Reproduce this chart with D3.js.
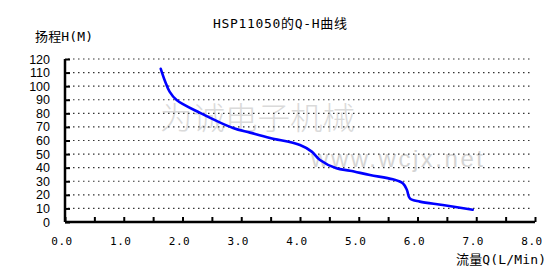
<!DOCTYPE html>
<html>
<head>
<meta charset="utf-8">
<script src="https://cdn.jsdelivr.net/npm/d3@7"></script>
<style>
  body { margin: 0; background: #fff; }
  svg { display: block; }
</style>
</head>
<body>
<svg id="chart"></svg>
<script>
// flow Q (L/Min) and head H (M)
const flowQ = [1.63, 1.70, 1.78, 1.90, 2.30, 2.86, 3.15, 3.49, 4.00, 4.20, 4.34, 4.62, 4.85, 5.19, 5.58, 5.75, 5.82, 5.87, 6.04, 6.43, 6.94];
const headH = [112.8, 104.0, 96.0, 89.8, 80.3, 69.2, 65.8, 61.9, 56.7, 51.8, 45.6, 39.5, 37.8, 34.6, 31.4, 28.5, 23.6, 17.4, 15.0, 12.5, 9.0];

const xTicks = [0, 1, 2, 3, 4, 5, 6, 7, 8];
const xMinorTicks = d3.range(0, 8.01, 0.5);
const yTicks = [0, 10, 20, 30, 40, 50, 60, 70, 80, 90, 100, 110, 120];

const title = "HSP11050的Q-H曲线";
const yTitle = "扬程H(M)";
const xTitle = "流量Q(L/Min)";

const W = 560, H = 279;
const margin = { top: 59, right: 25, bottom: 57, left: 65 };

const svg = d3.select("#chart").attr("width", W).attr("height", H);

const x = d3.scaleLinear().domain([0, 8]).range([margin.left, W - margin.right]);
const y = d3.scaleLinear().domain([0, 120]).range([H - margin.bottom, margin.top]);

const mono = "'DejaVu Sans Mono', 'Noto Sans CJK JP', monospace";

// watermark
svg.append("text")
  .attr("x", 160).attr("y", 129)
  .attr("textLength", 195).attr("lengthAdjust", "spacingAndGlyphs")
  .style("font-family", "'Noto Sans CJK SC'")
  .style("font-weight", 300)
  .style("font-size", "31px")
  .style("fill", "#dadada")
  .text("为诚电子机械");

svg.append("text")
  .attr("x", 311).attr("y", 167)
  .attr("textLength", 172).attr("lengthAdjust", "spacing")
  .style("font-family", "'Liberation Sans', Arial")
  .style("font-size", "24px")
  .style("fill", "#d4d4d4")
  .text("www.wcjx.net");

// dotted gridlines
svg.append("g")
  .selectAll("line")
  .data(yTicks.filter(d => d > 0))
  .join("line")
  .attr("x1", x(0) + 3).attr("x2", x(8) - 2)
  .attr("y1", d => y(d)).attr("y2", d => y(d))
  .attr("stroke", "#333")
  .attr("stroke-width", 1.2)
  .attr("stroke-dasharray", "1.5,3.5");

// the curve
const line = d3.line()
  .x((d, i) => x(flowQ[i]))
  .y(d => y(d))
  .curve(d3.curveCatmullRom.alpha(0.5));

svg.append("path")
  .datum(headH)
  .attr("d", line)
  .attr("fill", "none")
  .attr("stroke", "#0000ff")
  .attr("stroke-width", 2.6)
  .attr("stroke-linecap", "round");

// axes
const yAxis = svg.append("g")
  .attr("transform", `translate(${x(0)},0)`)
  .call(d3.axisRight(y).tickValues(yTicks).tickSize(5).tickFormat(""));
yAxis.select(".domain").attr("d", `M0,${y(120)}V${y(0)}`).attr("stroke-width", 2.5);
yAxis.selectAll(".tick line").attr("stroke-width", 2);

const xAxis = svg.append("g")
  .attr("transform", `translate(0,${y(0)})`)
  .call(d3.axisTop(x).tickValues(xMinorTicks).tickSize(5).tickFormat(""));
xAxis.select(".domain").attr("d", `M${x(0)},0H${x(8)}`).attr("stroke-width", 2.5);
xAxis.selectAll(".tick line").attr("stroke-width", 2);

// tick labels
svg.append("g")
  .selectAll("text")
  .data(yTicks)
  .join("text")
  .attr("x", 50)
  .attr("y", d => y(d) + 4.5)
  .attr("text-anchor", "end")
  .style("font-family", "'Liberation Sans', Arial")
  .style("font-size", "12.5px")
  .text(d => d);

svg.append("g")
  .selectAll("text")
  .data(xTicks)
  .join("text")
  .attr("x", d => x(d) - 3)
  .attr("y", 245)
  .attr("text-anchor", "middle")
  .style("font-family", mono)
  .style("font-size", "11px")
  .style("letter-spacing", "0.5px")
  .text(d => d.toFixed(1));

// titles
svg.append("text")
  .attr("x", 213).attr("y", 28)
  .attr("textLength", 134).attr("lengthAdjust", "spacing")
  .style("font-family", mono)
  .style("font-size", "13px")
  .text(title);

svg.append("text")
  .attr("x", 35).attr("y", 41)
  .attr("textLength", 58).attr("lengthAdjust", "spacing")
  .style("font-family", mono)
  .style("font-size", "13px")
  .text(yTitle);

svg.append("text")
  .attr("x", 456).attr("y", 264)
  .attr("textLength", 90).attr("lengthAdjust", "spacing")
  .style("font-family", mono)
  .style("font-size", "13px")
  .text(xTitle);
</script>
</body>
</html>
